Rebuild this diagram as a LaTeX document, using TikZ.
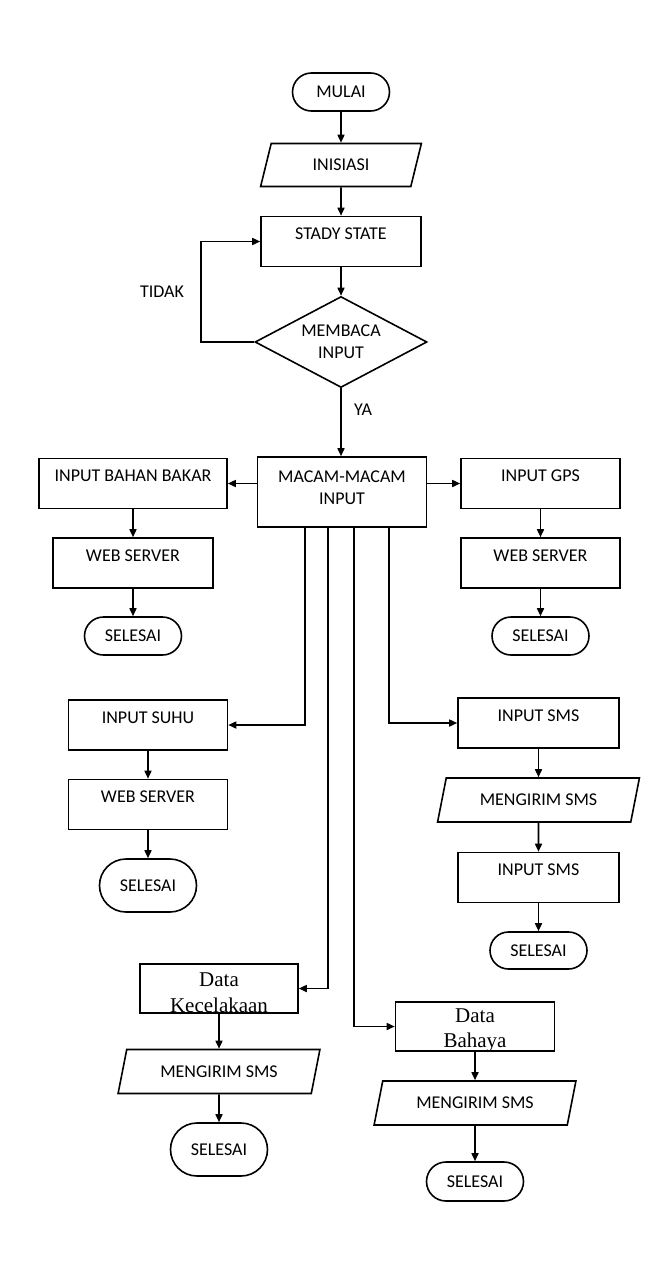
\documentclass[tikz,border=0pt]{standalone}
\usepackage{fontspec}
\setmainfont{Carlito}
\newfontfamily\serifdata{Liberation Serif}
\usetikzlibrary{positioning,arrows.meta,shapes.geometric,shapes.misc}

\begin{document}
\begin{tikzpicture}[x=1pt,y=-1pt,font=\fontsize{18}{22}\selectfont,line width=1.6pt,
  box/.style={draw,rectangle,inner xsep=2pt,inner ysep=0pt,text height=23pt,text depth=27pt,align=center},
  term/.style={draw,rounded rectangle,minimum width=97pt,minimum height=38pt,inner sep=0pt},
  io/.style={draw,trapezium,trapezium left angle=65,trapezium right angle=115,trapezium stretches=true,minimum width=202pt,minimum height=44pt,inner sep=0pt},
  arrow/.style={-{Triangle[length=8pt,width=7pt]},line width=1.6pt}]
\useasboundingbox (0,0) rectangle (662,1261);
% main column
\node[term] (mulai) at (341,92) {MULAI};
\node[io,trapezium left angle=70,trapezium right angle=110,minimum width=161pt,minimum height=43pt] (init) at (341,165) {INISIASI};
\node[box,minimum width=160pt] (stady) at (341,241.5) {STADY STATE};
\node[draw,diamond,aspect=1.9,minimum width=172pt,minimum height=91pt,inner sep=0pt,align=center] (baca) at (341,342) {MEMBACA\\INPUT};
\node[box,minimum width=169pt,text height=47pt,text depth=23pt] (macam) at (342,492) {MACAM-MACAM\\INPUT};
\draw[arrow] (mulai)--(init);
\draw[arrow] (init)--(stady);
\draw[arrow] (stady)--(baca);
\draw[arrow] (baca.south)--(baca.south |- macam.north);
\draw[arrow] (baca.west)--++(-53,0) |- (stady.west);
\node (tidak) at (162,292) {TIDAK};
\node (ya) at (363,410) {YA};
% bahan bakar
\node[box,minimum width=188pt] (bahan) at (133,483.5) {INPUT BAHAN BAKAR};
\node[box,minimum width=160pt] (web1) at (133,563) {WEB SERVER};
\node[term] (end1) at (133,636) {SELESAI};
\draw[arrow] (macam.west |- bahan)--(bahan.east);
\draw[arrow] (bahan)--(web1);
\draw[arrow] (web1)--(end1);
% gps
\node[box,minimum width=159pt] (gps) at (540.5,483.5) {INPUT GPS};
\node[box,minimum width=159pt] (web2) at (540.5,563) {WEB SERVER};
\node[term] (end2) at (540.5,636) {SELESAI};
\draw[arrow] (macam.east |- gps)--(gps.west);
\draw[arrow] (gps)--(web2);
\draw[arrow] (web2)--(end2);
% suhu
\node[box,minimum width=159pt] (suhu) at (148,725) {INPUT SUHU};
\node[box,minimum width=159pt] (web3) at (148,804.5) {WEB SERVER};
\node[term,minimum height=53pt] (end3) at (148,885.5) {SELESAI};
\draw[arrow] ([xshift=-37pt]macam.south) |- (suhu);
\draw[arrow] (suhu)--(web3);
\draw[arrow] (web3)--(end3);
% sms
\node[box,minimum width=161pt] (sms1) at (538.5,723) {INPUT SMS};
\node[io] (kirim1) at (538.5,800) {MENGIRIM SMS};
\node[box,minimum width=161pt] (sms2) at (538.5,877.5) {INPUT SMS};
\node[term,minimum height=37pt] (end4) at (538.5,950.5) {SELESAI};
\draw[arrow] ([xshift=47pt]macam.south) |- (sms1);
\draw[arrow] (sms1)--(kirim1);
\draw[arrow] (kirim1)--(sms2);
\draw[arrow] (sms2)--(end4);
% kecelakaan
\node[box,minimum width=158pt,font=\serifdata\fontsize{21}{26}\selectfont,text height=48pt,text depth=1pt] (kec) at (219,988.5) {Data\\Kecelakaan};
\node[io] (kirim2) at (219,1071.5) {MENGIRIM SMS};
\node[term,minimum height=53pt] (end5) at (219,1149.5) {SELESAI};
\draw[arrow] ([xshift=-14pt]macam.south) |- (kec);
\draw[arrow] (kec)--(kirim2);
\draw[arrow] (kirim2)--(end5);
% bahaya
\node[box,minimum width=159pt,font=\serifdata\fontsize{21}{25}\selectfont,text height=45pt,text depth=4pt] (bahaya) at (475,1026.5) {Data\\Bahaya};
\node[io] (kirim3) at (475,1103) {MENGIRIM SMS};
\node[term,minimum height=39pt] (end6) at (475,1181.5) {SELESAI};
\draw[arrow] ([xshift=12pt]macam.south) |- (bahaya);
\draw[arrow] (bahaya)--(kirim3);
\draw[arrow] (kirim3)--(end6);
\end{tikzpicture}
\end{document}
